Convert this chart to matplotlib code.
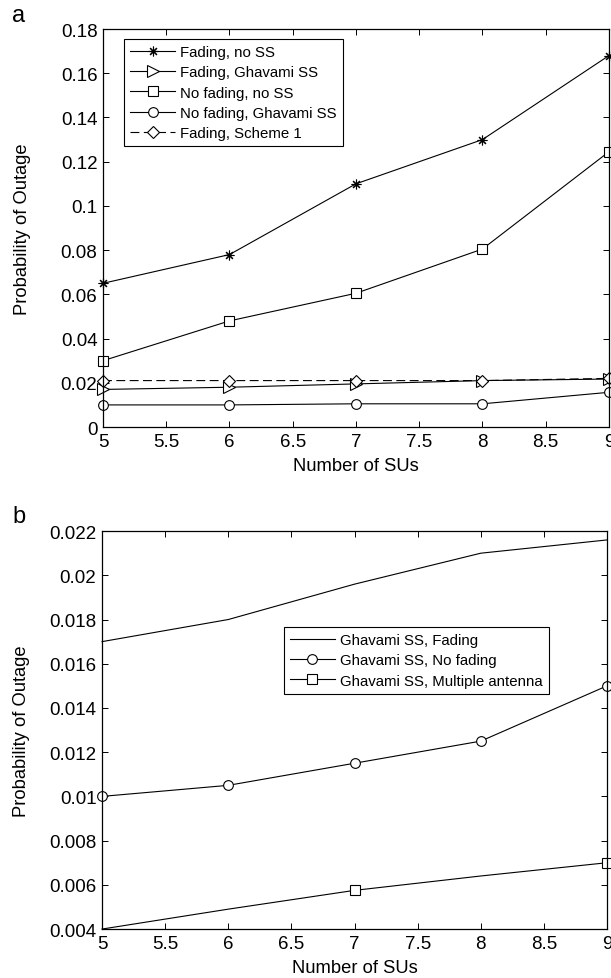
import matplotlib
matplotlib.use('Agg')
import matplotlib.pyplot as plt
from matplotlib.ticker import FuncFormatter, MultipleLocator

plt.rcParams['font.family'] = ['Liberation Sans', 'DejaVu Sans']

# number of SUs
n_su = [5, 6, 7, 8, 9]

# panel a
fading_no_ss = [0.065, 0.078, 0.110, 0.130, 0.168]
fading_ghavami = [0.017, 0.018, 0.0195, 0.021, 0.0217]
nofading_no_ss = [0.030, 0.048, 0.0605, 0.0805, 0.1245]
nofading_ghavami = [0.010, 0.010, 0.0105, 0.0105, 0.0157]
fading_scheme1 = [0.021, 0.021, 0.021, 0.021, 0.022]

# panel b
b_fading = [0.017, 0.018, 0.0196, 0.021, 0.0216]
b_nofading = [0.010, 0.0105, 0.0115, 0.0125, 0.015]
b_multi_ant = [0.004, 0.0049, 0.00575, 0.0064, 0.007]

fmt = FuncFormatter(lambda v, p: '%g' % round(v, 6))

def style(ax):
    ax.tick_params(direction='in', top=True, right=True, labelsize=13.5,
                   length=4, width=0.7, pad=4)
    for s in ax.spines.values():
        s.set_linewidth(0.9)
    ax.xaxis.set_major_locator(MultipleLocator(0.5))
    ax.xaxis.set_major_formatter(fmt)
    ax.yaxis.set_major_formatter(fmt)
    ax.set_xlim(5, 9)
    ax.set_xlabel('Number of SUs', fontsize=13.2, labelpad=5)
    ax.set_ylabel('Probability of Outage', fontsize=13.2)
    ax.yaxis.set_label_coords(-0.142, 0.5)

def make_legend(ax, anchor):
    leg = ax.legend(loc='upper left', bbox_to_anchor=anchor, borderaxespad=0,
                    fontsize=10.8, fancybox=False, edgecolor='black', framealpha=1,
                    handlelength=3.0, borderpad=0.4, labelspacing=0.42,
                    handletextpad=0.35)
    leg.get_frame().set_linewidth(0.8)

fig = plt.figure(figsize=(6.11, 9.79), dpi=100)

ax1 = fig.add_axes([0.1686, 0.5628, 0.828, 0.4065])
kw = dict(color='black', lw=0.8, mfc='white', mec='black', mew=0.8, clip_on=False)
ax1.plot(n_su, fading_no_ss, marker=(8, 2, 0), ms=7, label='Fading, no SS', **kw)
ax1.plot(n_su, fading_ghavami, marker='>', ms=8, label='Fading, Ghavami SS', **kw)
ax1.plot(n_su, nofading_no_ss, marker='s', ms=7, label='No fading, no SS', **kw)
ax1.plot(n_su, nofading_ghavami, marker='o', ms=7, label='No fading, Ghavami SS', **kw)
ax1.plot(n_su, fading_scheme1, marker='D', ms=6, ls=(0, (8, 4)), label='Fading, Scheme 1', **kw)
ax1.set_ylim(0, 0.18)
ax1.yaxis.set_major_locator(MultipleLocator(0.02))
style(ax1)
make_legend(ax1, (0.0415, 0.975))

ax2 = fig.add_axes([0.167, 0.05, 0.8265, 0.4065])
ax2.plot(n_su, b_fading, label='Ghavami SS, Fading', **kw)
ax2.plot(n_su, b_nofading, marker='o', ms=7, label='Ghavami SS, No fading', **kw)
ax2.plot(n_su, b_multi_ant, marker='s', ms=7, markevery=[2, 4],
         label='Ghavami SS, Multiple antenna', **kw)
ax2.set_ylim(0.004, 0.022)
ax2.yaxis.set_major_locator(MultipleLocator(0.002))
style(ax2)
make_legend(ax2, (0.36, 0.759))

fig.text(0.02, 0.9775, 'a', fontsize=17, va='baseline')
fig.text(0.02, 0.4658, 'b', fontsize=17, va='baseline')

fig.savefig('out.png', dpi=100)
